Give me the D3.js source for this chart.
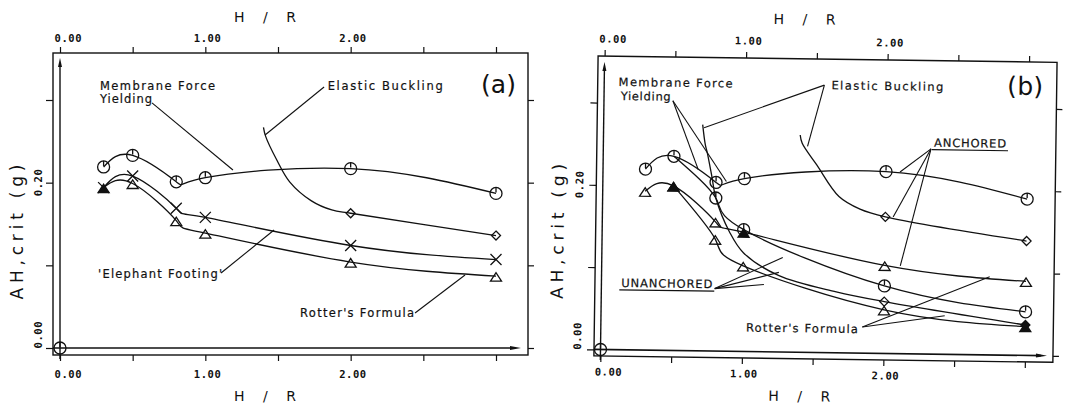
<!DOCTYPE html>
<html>
<head>
<meta charset="utf-8">
<script src="https://cdn.jsdelivr.net/npm/d3@7"></script>
<style>
  body { margin: 0; background: #fff; }
  svg { display: block; }
  .lbl { font-family: "DejaVu Sans", sans-serif; font-size: 11.5px; fill: #111; stroke: #111; stroke-width: 0.2; }
  .tick-lbl { font-family: "DejaVu Sans Mono", monospace; font-weight: bold; font-size: 10.5px; fill: #111; }
  .ttl { font-family: "DejaVu Sans", sans-serif; font-size: 14px; fill: #111; }
  .ytl { font-family: "DejaVu Sans", sans-serif; font-size: 17px; fill: #111; }
  .big { font-family: "DejaVu Sans", sans-serif; font-size: 25px; fill: #111; }
</style>
</head>
<body>
<svg id="chart" width="1068" height="407"></svg>
<script>
// H/R ratios where the curves were evaluated
var hr = [0.3, 0.5, 0.8, 1.0, 2.0, 3.0];

// panel (a) - AH,crit (g)
var membraneA = [0.219, 0.233, 0.201, 0.206, 0.217, 0.187];
var elephantA = [0.194, 0.208, 0.169, 0.158, 0.124, 0.107];
var rotterA   = [0.194, 0.199, 0.154, 0.139, 0.104, 0.087];
var elasticAx = [1.40, 1.415, 1.49, 1.58, 1.73, 1.87, 2.0, 3.0];
var elasticA  = [0.267, 0.256, 0.228, 0.201, 0.178, 0.167, 0.163, 0.136];

// panel (b) anchored
var membraneB = [0.220, 0.236, 0.205, 0.210, 0.221, 0.190];
var rotterB   = [0.193, 0.200, 0.157, 0.145, 0.107, 0.090];
var elasticBx = [1.39, 1.405, 1.51, 1.67, 1.82, 2.0, 3.0];
var elasticB  = [0.264, 0.254, 0.228, 0.190, 0.175, 0.166, 0.139];

// panel (b) unanchored
var membraneU = [0.220, 0.236, 0.186, 0.148, 0.082, 0.053];
var rotterU   = [0.193, 0.200, 0.136, 0.104, 0.053, 0.035];
var elasticUx = [0.70, 0.72, 0.735, 0.77, 0.80, 0.90, 1.0, 1.25, 1.66, 2.0, 3.0];
var elasticU  = [0.275, 0.251, 0.241, 0.212, 0.186, 0.145, 0.120, 0.093, 0.074, 0.063, 0.037];

// axis ticks and labels
var xTicks = [0, 0.5, 1, 1.5, 2, 2.5, 3];
var xLabels = {0: "0.00", 1: "1.00", 2: "2.00"};
var yTicks = [0, 0.1, 0.2, 0.3];
var yLabels = {0: "0.00", 0.2: "0.20"};

var svg = d3.select("#chart");
var ink = "#111";

function zip(xs, ys) {
  return xs.map(function(v, i) { return [v, ys[i]]; });
}

function marker(g, type, cx, cy, solid) {
  var fill = solid ? ink : "none";
  if (type == "circle") {
    g.append("circle").attr("cx", cx).attr("cy", cy).attr("r", 6)
      .attr("fill", "none").attr("stroke", ink).attr("stroke-width", 1.3);
    g.append("line").attr("x1", cx).attr("x2", cx).attr("y1", cy - 6).attr("y2", cy - 1)
      .attr("stroke", ink).attr("stroke-width", 1.3);
  } else if (type == "tri") {
    g.append("path").attr("d", "M" + (cx - 5.5) + "," + (cy + 5) + "L" + cx + "," + (cy - 3.5) + "L" + (cx + 5.5) + "," + (cy + 5) + "Z")
      .attr("fill", fill).attr("stroke", ink).attr("stroke-width", 1.3);
  } else if (type == "x") {
    g.append("path").attr("d", "M" + (cx - 5.5) + "," + (cy - 5.5) + "L" + (cx + 5.5) + "," + (cy + 5.5) +
      "M" + (cx - 5.5) + "," + (cy + 5.5) + "L" + (cx + 5.5) + "," + (cy - 5.5))
      .attr("fill", "none").attr("stroke", ink).attr("stroke-width", 1.3);
  } else if (type == "diamond") {
    g.append("path").attr("d", "M" + cx + "," + (cy - 4.5) + "L" + (cx + 4.5) + "," + cy + "L" + cx + "," + (cy + 4.5) + "L" + (cx - 4.5) + "," + cy + "Z")
      .attr("fill", fill).attr("stroke", ink).attr("stroke-width", 1.3);
  }
}

function drawPanel(p) {
  var g = svg.append("g");
  if (p.rotate) g.attr("transform", "rotate(" + p.rotate + "," + p.xr[0] + "," + p.yr[0] + ")");

  var x = d3.scaleLinear().domain([0, 3]).range(p.xr);
  var y = d3.scaleLinear().domain([0, 0.3]).range(p.yr);
  var b = p.box;

  g.append("rect")
    .attr("x", b[0]).attr("y", b[2])
    .attr("width", b[1] - b[0]).attr("height", b[3] - b[2])
    .attr("fill", "none").attr("stroke", ink).attr("stroke-width", 1.4);

  function clean(sel) {
    sel.select(".domain").remove();
    sel.selectAll(".tick line").attr("stroke", ink).attr("stroke-width", 1.2);
  }
  g.append("g").attr("transform", "translate(0," + b[2] + ")")
    .call(d3.axisTop(x).tickValues(xTicks).tickSize(6).tickFormat("")).call(clean);
  g.append("g").attr("transform", "translate(0," + b[3] + ")")
    .call(d3.axisBottom(x).tickValues(xTicks).tickSize(6).tickFormat("")).call(clean);
  g.append("g").attr("transform", "translate(" + b[0] + ",0)")
    .call(d3.axisLeft(y).tickValues(yTicks).tickSize(7).tickFormat("")).call(clean);
  g.append("g").attr("transform", "translate(" + b[1] + ",0)")
    .call(d3.axisRight(y).tickValues(yTicks).tickSize(6).tickFormat("")).call(clean);

  // tick labels (the zero label sits a little off its tick in the original)
  [p.topBase, p.botBase].forEach(function(base) {
    g.selectAll(null).data(Object.keys(xLabels).map(Number)).enter().append("text")
      .attr("class", "tick-lbl")
      .attr("x", function(d) { return x(d) + (d == 0 ? 8 : 2); })
      .attr("y", base)
      .attr("text-anchor", "middle")
      .attr("textLength", 27).attr("lengthAdjust", "spacing")
      .text(function(d) { return xLabels[d]; });
  });
  g.selectAll(null).data(Object.keys(yLabels).map(Number)).enter().append("text")
    .attr("class", "tick-lbl")
    .attr("transform", function(d) { return "translate(" + p.yTickX + "," + (y(d) - (d == 0 ? 13 : 0)) + ") rotate(-90)"; })
    .attr("text-anchor", "middle")
    .attr("textLength", 27).attr("lengthAdjust", "spacing")
    .text(function(d) { return yLabels[d]; });

  // axis titles
  [p.titleTop, p.titleBot].forEach(function(base) {
    g.append("text").attr("class", "ttl")
      .attr("x", x(1.41)).attr("y", base).attr("text-anchor", "middle")
      .attr("textLength", 62).attr("lengthAdjust", "spacing")
      .text("H / R");
  });
  g.append("text").attr("class", "ytl")
    .attr("transform", "translate(" + p.yTitleX + "," + p.yTitleY + ") rotate(-90)")
    .attr("text-anchor", "middle")
    .attr("textLength", 135).attr("lengthAdjust", "spacing")
    .text("AH,crit (g)");

  // arrows along H/R = 0 and AH = 0
  g.append("line").attr("x1", x(0)).attr("x2", x(0)).attr("y1", b[3] + 4).attr("y2", p.yArrow + 6)
    .attr("stroke", ink).attr("stroke-width", 1.4);
  g.append("path").attr("d", "M" + (x(0) - 2) + "," + (p.yArrow + 9) + "L" + x(0) + "," + p.yArrow + "L" + (x(0) + 2) + "," + (p.yArrow + 9) + "Z")
    .attr("fill", ink);
  g.append("line").attr("x1", b[0]).attr("x2", p.xArrow - 6).attr("y1", y(0)).attr("y2", y(0))
    .attr("stroke", ink).attr("stroke-width", 1.6);
  g.append("path").attr("d", "M" + (p.xArrow - 11) + "," + (y(0) - 2) + "L" + p.xArrow + "," + y(0) + "L" + (p.xArrow - 11) + "," + (y(0) + 2) + "Z")
    .attr("fill", ink);
  marker(g, "circle", x(0), y(0));

  // curves
  p.series.forEach(function(s) {
    var pts = zip(s.xs, s.ys).slice(s.from || 0);
    g.append("path")
      .attr("d", d3.line().x(function(d) { return x(d[0]); }).y(function(d) { return y(d[1]); })
        .curve(s.curve || d3.curveNatural)(pts))
      .attr("fill", "none").attr("stroke", ink).attr("stroke-width", 1.3);
    pts.forEach(function(d) {
      if (s.marks && s.marks.indexOf(d[0]) < 0) return;
      marker(g, s.m, x(d[0]), y(d[1]), s.solid && s.solid.indexOf(d[0]) >= 0);
    });
  });

  // leader lines
  p.leaders.forEach(function(l) {
    g.append("line")
      .attr("x1", x(l[0])).attr("y1", y(l[1])).attr("x2", x(l[2])).attr("y2", y(l[3]))
      .attr("stroke", ink).attr("stroke-width", 1.1);
  });

  // annotations
  p.notes.forEach(function(n) {
    g.append("text").attr("class", n.cls || "lbl")
      .attr("x", x(n.x)).attr("y", y(n.y))
      .attr("textLength", n.w).attr("lengthAdjust", "spacing")
      .text(n.t);
    if (n.under) {
      g.append("line").attr("x1", x(n.x) - 2).attr("x2", x(n.x) + n.w + 2)
        .attr("y1", y(n.y) + 3).attr("y2", y(n.y) + 3)
        .attr("stroke", ink).attr("stroke-width", 1.2);
    }
  });
}

var smooth = d3.curveCatmullRom.alpha(0.5);

drawPanel({
  box: [53, 528, 53, 355],
  xr: [60, 496], yr: [348, 100],
  topBase: 42, botBase: 378, titleTop: 22, titleBot: 401,
  yTickX: 42, yTitleX: 23, yTitleY: 232,
  yArrow: 58, xArrow: 521,
  series: [
    {xs: hr, ys: membraneA, m: "circle"},
    {xs: hr, ys: elephantA, m: "x"},
    {xs: hr, ys: rotterA, m: "tri", solid: [0.3]},
    {xs: elasticAx, ys: elasticA, m: "diamond", marks: [2, 3], curve: smooth}
  ],
  leaders: [
    [0.633, 0.2965, 1.19, 0.2153],
    [1.817, 0.3157, 1.411, 0.2577],
    [1.108, 0.0907, 1.473, 0.1427],
    [2.443, 0.0423, 2.787, 0.0883]
  ],
  notes: [
    {t: "Membrane Force", x: 0.275, y: 0.3125, w: 115},
    {t: "Yielding", x: 0.275, y: 0.2965, w: 52},
    {t: "Elastic Buckling", x: 1.842, y: 0.312, w: 115},
    {t: "'Elephant Footing'", x: 0.262, y: 0.085, w: 124},
    {t: "Rotter's Formula", x: 1.652, y: 0.0375, w: 114},
    {t: "(a)", x: 2.897, y: 0.308, w: 35, cls: "big"}
  ]
});

drawPanel({
  rotate: 0.8,
  box: [594, 1053, 56, 356],
  xr: [600.5, 1025], yr: [349.5, 102.6],
  topBase: 42.5, botBase: 375.5, titleTop: 21.5, titleBot: 398.5,
  yTickX: 581, yTitleX: 562, yTitleY: 232,
  yArrow: 62, xArrow: 1047,
  series: [
    {xs: hr, ys: membraneB, m: "circle"},
    {xs: hr, ys: rotterB, m: "tri", solid: [1.0]},
    {xs: elasticBx, ys: elasticB, m: "diamond", marks: [2, 3], curve: smooth},
    {xs: hr, ys: membraneU, m: "circle", from: 1, marks: [0.8, 1, 2, 3]},
    {xs: hr, ys: rotterU, m: "tri", from: 1, solid: [0.5, 3.0]},
    {xs: elasticUx, ys: elasticU, m: "diamond", marks: [2, 3], curve: smooth, solid: [3.0]}
  ],
  leaders: [
    [0.487, 0.3035, 0.673, 0.2202],
    [0.487, 0.3035, 0.873, 0.2062],
    [1.556, 0.325, 0.710, 0.2713],
    [1.556, 0.325, 1.443, 0.2504],
    [2.316, 0.2494, 2.099, 0.2208],
    [2.316, 0.2494, 2.055, 0.166],
    [2.316, 0.2494, 2.110, 0.1066],
    [0.801, 0.0759, 1.279, 0.115],
    [0.801, 0.0759, 1.253, 0.0967],
    [0.801, 0.0759, 1.148, 0.0818],
    [1.848, 0.0317, 2.743, 0.0951],
    [1.848, 0.0317, 2.429, 0.0468]
  ],
  notes: [
    {t: "Membrane Force", x: 0.102, y: 0.3205, w: 114},
    {t: "Yielding", x: 0.118, y: 0.3035, w: 50},
    {t: "Elastic Buckling", x: 1.606, y: 0.320, w: 112},
    {t: "ANCHORED", x: 2.337, y: 0.252, w: 72, under: true},
    {t: "UNANCHORED", x: 0.141, y: 0.0764, w: 91, under: true},
    {t: "Rotter's Formula", x: 1.026, y: 0.0243, w: 112},
    {t: "(b)", x: 2.848, y: 0.3166, w: 36, cls: "big"}
  ]
});
</script>
</body>
</html>
